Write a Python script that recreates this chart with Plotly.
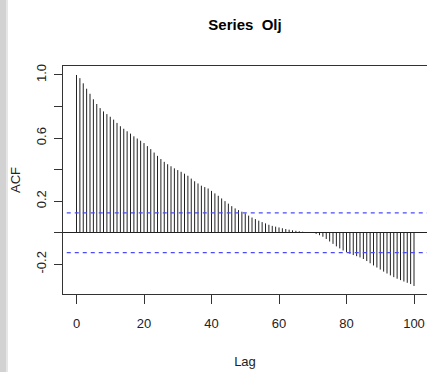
import plotly.graph_objects as go

# ---- data ----
lags = list(range(0, 101))
acf_values = [
    1.000, 0.980, 0.947, 0.913, 0.881, 0.846, 0.816, 0.790, 0.769, 0.752,
    0.735, 0.717, 0.696, 0.675, 0.659, 0.643, 0.628, 0.611, 0.597, 0.583,
    0.568, 0.549, 0.530, 0.508, 0.487, 0.467, 0.449, 0.434, 0.421, 0.408,
    0.397, 0.386, 0.374, 0.361, 0.343, 0.326, 0.312, 0.298, 0.289, 0.280,
    0.265, 0.249, 0.234, 0.217, 0.200, 0.184, 0.168, 0.154, 0.143, 0.133,
    0.122, 0.108, 0.096, 0.086, 0.076, 0.067, 0.059, 0.050, 0.043, 0.038,
    0.033, 0.028, 0.023, 0.019, 0.015, 0.012, 0.009, 0.006, 0.004, 0.002,
    -0.002, -0.008, -0.016, -0.026, -0.040, -0.056, -0.071, -0.087, -0.100, -0.113,
    -0.124, -0.134, -0.142, -0.149, -0.157, -0.167, -0.180, -0.194, -0.208, -0.221,
    -0.234, -0.247, -0.259, -0.271, -0.282, -0.292, -0.301, -0.310, -0.318, -0.326,
    -0.338,
]
ci_bound = 0.126
x_tick_vals = [0, 20, 40, 60, 80, 100]
x_tick_text = ["0", "20", "40", "60", "80", "100"]
y_tick_vals = [-0.2, 0.0, 0.2, 0.4, 0.6, 0.8, 1.0]
y_tick_text = ["-0.2", "", "0.2", "", "0.6", "", "1.0"]
title_text = "Series\u00a0\u00a0Olj"

# ---- figure ----
xs, ys = [], []
for lag, v in zip(lags, acf_values):
    xs += [lag, lag, None]
    ys += [0, v, None]

fig = go.Figure()
fig.add_trace(go.Scatter(x=xs, y=ys, mode="lines",
                         line=dict(color="#222222", width=1),
                         hoverinfo="skip", showlegend=False))
for b in (ci_bound, -ci_bound):
    fig.add_trace(go.Scatter(x=[-10, 110], y=[b, b], mode="lines",
                             line=dict(color="#4a4aff", width=1.2, dash="4px,4px"),
                             hoverinfo="skip", showlegend=False))

FONT = "Liberation Sans, Arial, sans-serif"
W, H = 427, 372
L, T, B = 63, 66, 78
pw, ph = W - L, H - T - B

fig.update_layout(
    width=W, height=H,
    margin=dict(l=L, r=0, t=T, b=B, pad=0),
    paper_bgcolor="white", plot_bgcolor="white",
    font=dict(family=FONT, size=13, color="black"),
    title=dict(text="<b>" + title_text + "</b>", x=245 / W, xanchor="center",
               y=1 - 25 / H, yanchor="middle",
               font=dict(family=FONT, size=15, color="black")),
    xaxis=dict(range=[-4, -4 + pw / 3.375], showgrid=False, zeroline=False,
               showline=True, mirror=True, linecolor="#333333", linewidth=1,
               ticks="outside", ticklen=9, tickcolor="#333333", tickwidth=1,
               tickvals=x_tick_vals, ticktext=x_tick_text, ticklabelstandoff=8,
               tickfont=dict(family=FONT, size=13, color="#222222"),
               title=dict(text="Lag", font=dict(family=FONT, size=13, color="#222222"),
                          standoff=27)),
    yaxis=dict(range=[-0.389, 1.057], showgrid=False,
               zeroline=True, zerolinecolor="#222222", zerolinewidth=1,
               showline=True, mirror=False, linecolor="#333333", linewidth=1,
               ticks="outside", ticklen=8, tickcolor="#333333", tickwidth=1,
               tickvals=y_tick_vals, ticktext=y_tick_text, tickangle=-90,
               ticklabelstandoff=3,
               tickfont=dict(family=FONT, size=13, color="#222222"),
               title=dict(text="ACF", font=dict(family=FONT, size=13, color="#222222"),
                          standoff=10)),
    shapes=[
        dict(type="rect", xref="paper", yref="paper",
             x0=(0 - L) / pw, x1=(6 - L) / pw, y0=-B / ph, y1=(H - B) / ph,
             fillcolor="#d2d2d2", line=dict(width=0), layer="below"),
        dict(type="rect", xref="paper", yref="paper",
             x0=(6 - L) / pw, x1=(8 - L) / pw, y0=-B / ph, y1=(H - B) / ph,
             fillcolor="#e6e6e6", line=dict(width=0), layer="below"),
    ],
)

fig.write_html("out.html")
